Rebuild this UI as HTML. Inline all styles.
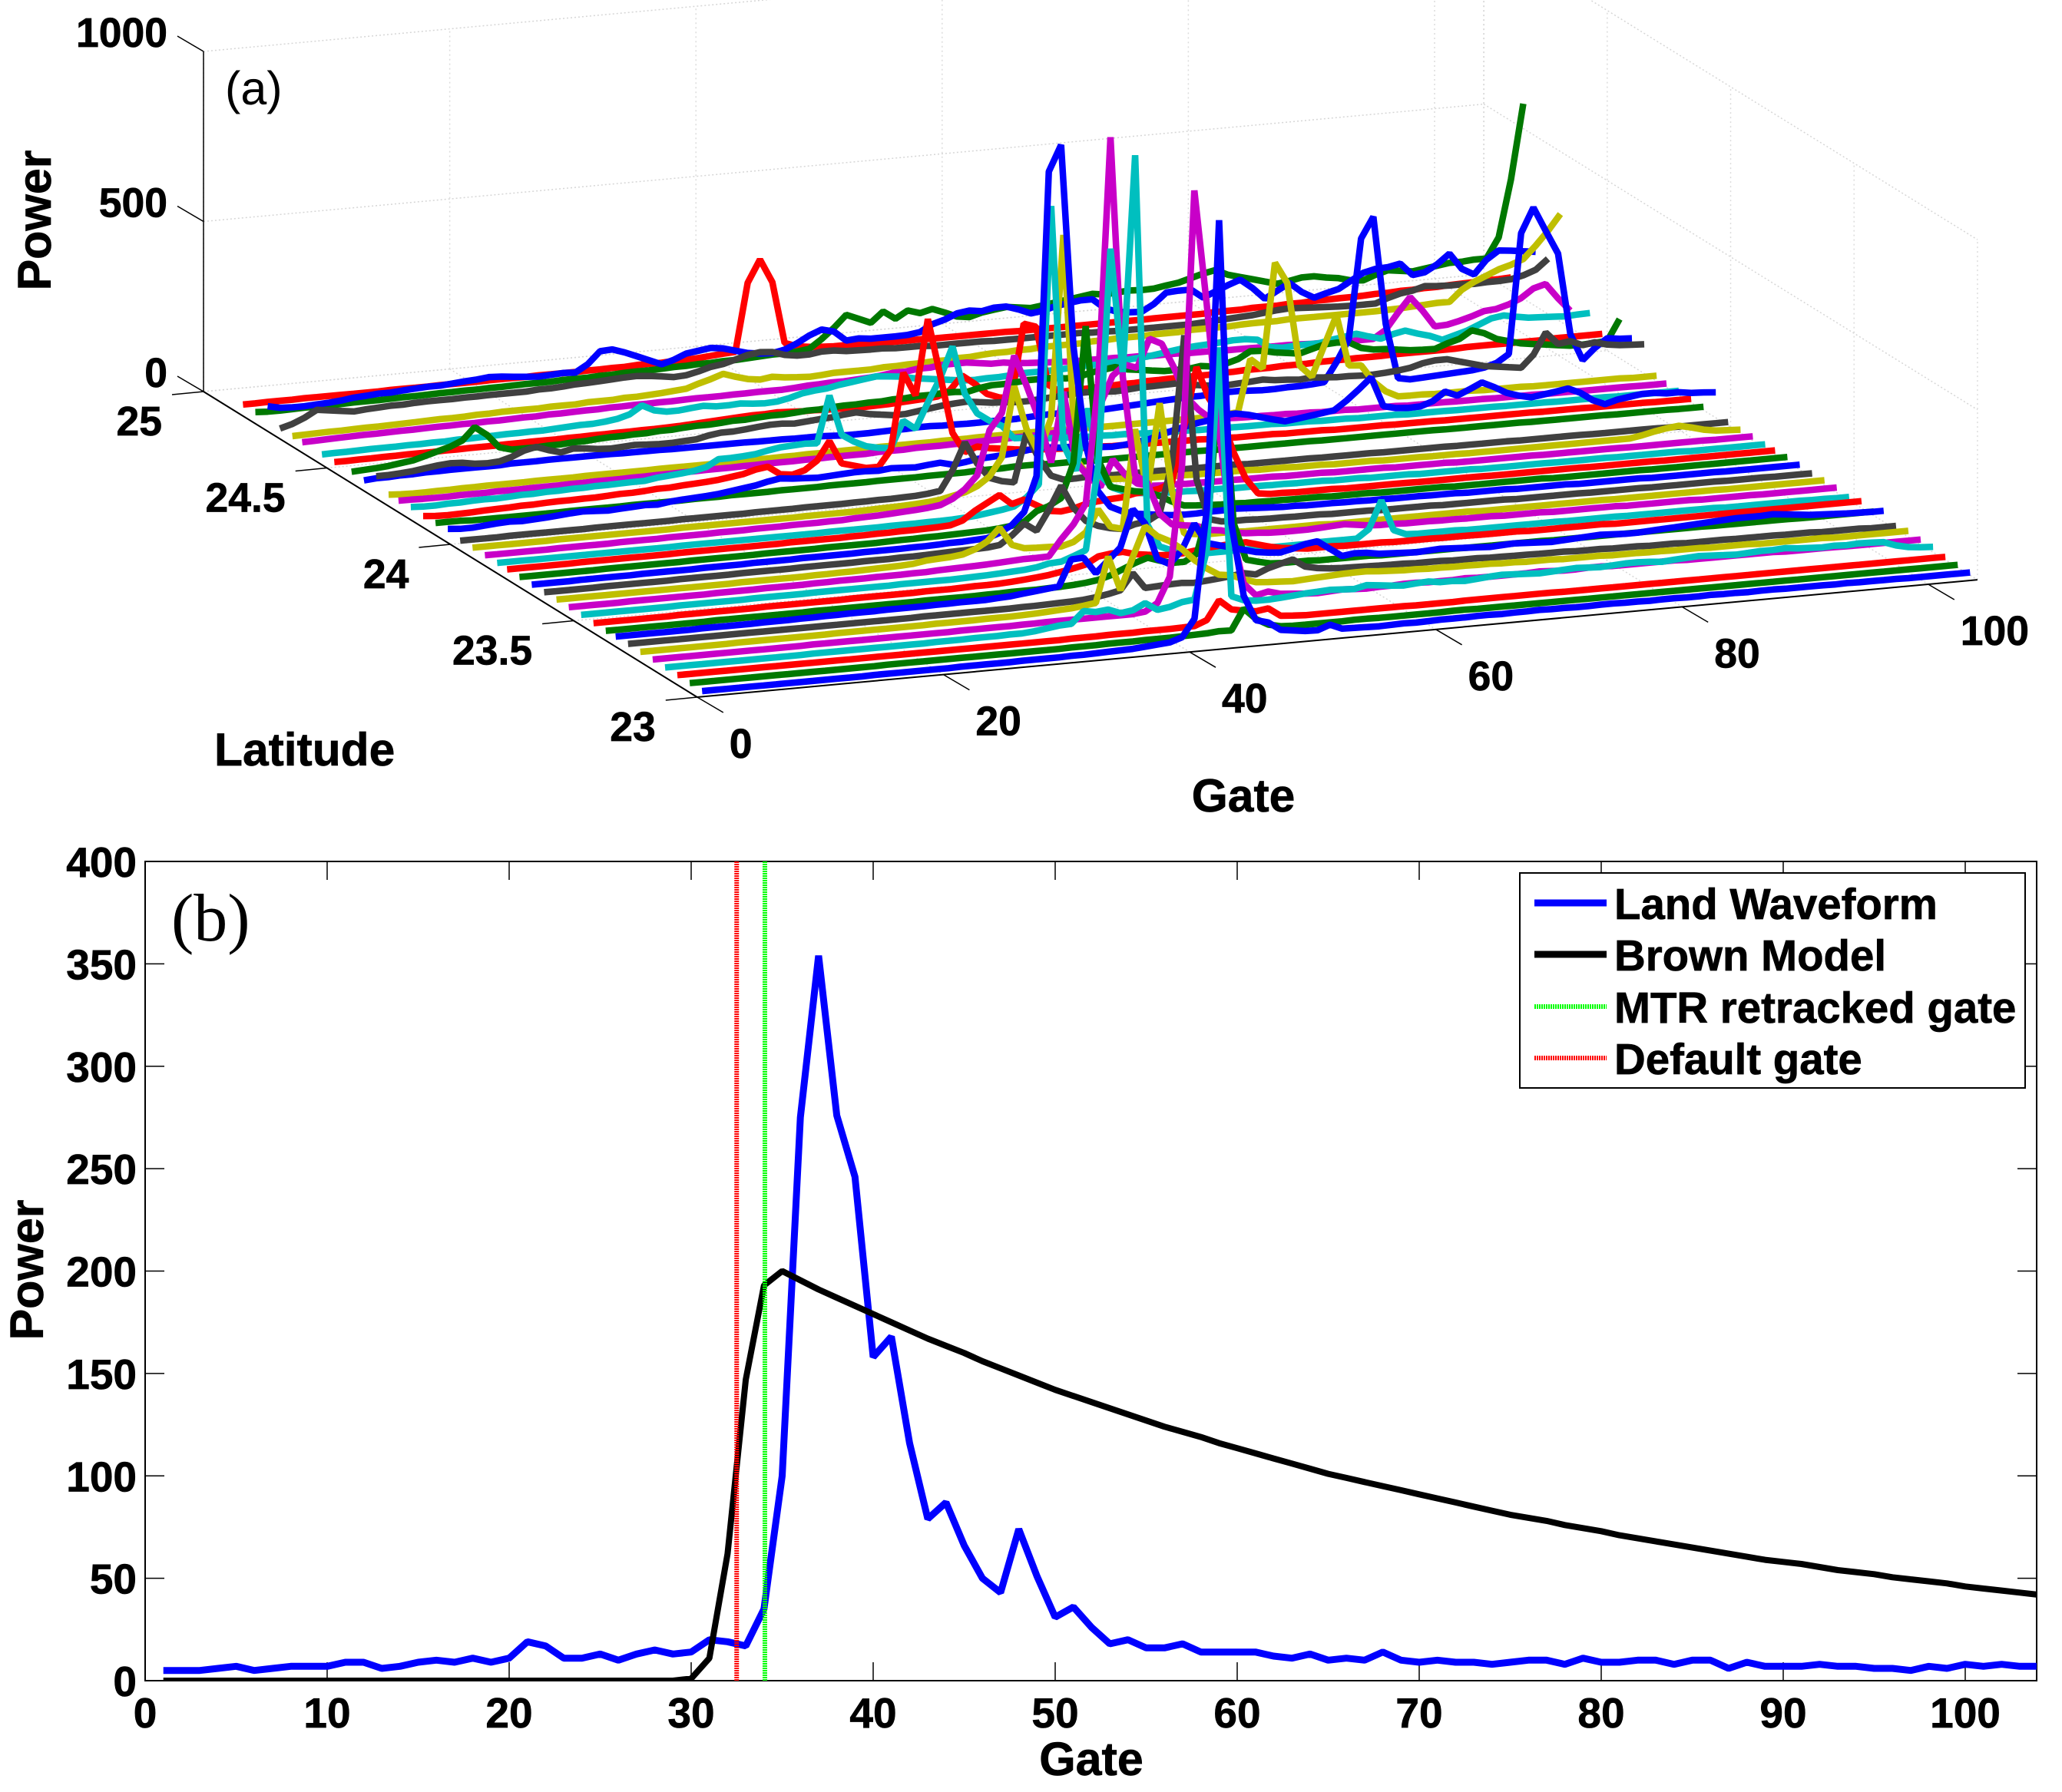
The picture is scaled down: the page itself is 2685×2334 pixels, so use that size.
<!DOCTYPE html>
<html lang="en"><head><meta charset="utf-8"><title>Waveform figure</title>
<style>html,body{margin:0;padding:0;background:#fff}svg{display:block}text{font-family:"Liberation Sans",sans-serif;font-weight:bold;fill:#000;stroke:#000;stroke-width:.7px}</style></head>
<body>
<svg id="fig" xmlns="http://www.w3.org/2000/svg" width="2685" height="2334" viewBox="0 0 2685 2334">
<defs><clipPath id="clipB"><rect x="189" y="1122" width="2463" height="1068"/></clipPath></defs>
<g id="a"></g>
<g id="b"></g>
</svg>
<script>
const NS='http://www.w3.org/2000/svg';
// Panel (a) axis ticks
const aGateTicks=[0,20,40,60,80,100];
const aLatTicks=[25,24.5,24,23.5,23];
const aPowerTicks=[0,500,1000];
// Panel (a) latitudes and colours, front to back
const lats=[23.03,23.08,23.13,23.18,23.23,23.28,23.33,23.38,23.42,23.47,23.52,23.57,23.62,23.67,23.72,23.77,23.82,23.86,23.91,23.96,24.01,24.06,24.11,24.16,24.21,24.26,24.30,24.35,24.40,24.45,24.52,24.57,24.65,24.69,24.74,24.79,24.84,24.89];
const colors=['#0000ff','#007800','#ff0000','#00bfbf','#c800c8','#bfbf00','#404040'];
// Panel (a) waveforms: power at gates 1..104
const s00=[1,1,1,1,1,1,1,1,1,1, 1,1,1,1,2,2,2,2,2,2, 2,3,3,3,3,3,4,4,4,4, 5,5,6,7,8,9,12,15,18,30, 81,400,1246,350,135,60,50,25,20,15, 14,27,12,11,10,9,10,11,10,11, 12,12,12,13,13,12,13,13,14,13, 13,12,12,13,13,12,12,11,12,12, 11,11,12,11,11,10,11,11,10,10, 10,10,9,10,9,9,9,9,8,8, 8,8,8,8];
const s01=[2,2,2,2,2,2,2,2,2,2, 2,2,2,2,2,2,3,3,3,3, 3,3,3,3,3,3,3,3,3,3, 3,4,4,4,5,5,5,6,6,6, 7,8,9,12,11,72,38,18,10,8, 8,8,8,8,9,9,8,8,8,8, 8,8,9,9,8,8,8,8,8,8, 8,8,8,8,8,8,8,8,8,8, 8,8,8,8,8,8,8,8,8,8, 8,8,8,8,8,8,8,8,8,8, 8,8,8,8];
const s02=[3,3,3,3,3,3,3,3,3,3, 3,3,3,3,3,3,3,3,3,3, 3,3,3,3,3,3,3,3,3,3, 3,3,4,4,4,5,5,5,6,6, 6,7,8,22,77,47,40,35,40,15, 12,10,10,10,10,10,10,10,10,10, 9,9,9,9,10,10,10,10,10,10, 10,10,9,9,9,9,9,9,9,9, 9,9,9,9,9,9,9,9,9,9, 9,9,9,9,9,9,9,9,9,9, 9,9,9,9];
const s03=[3,3,3,3,3,3,3,3,3,3, 3,3,4,4,4,4,4,4,4,4, 4,4,5,5,5,6,6,6,7,7, 10,15,20,22,56,50,54,40,45,63, 40,45,56,60,200,795,60,45,40,40, 42,45,48,50,52,50,48,56,52,48, 45,48,50,45,45,42,45,48,50,48, 46,44,46,48,50,48,46,48,50,50, 48,45,48,50,52,50,48,46,48,50, 50,52,48,46,44,46,44,46,45,43, 30,22,18,16];
const s04=[4,4,4,4,4,4,4,4,4,4, 4,4,4,5,5,5,5,5,5,5, 5,5,5,5,5,6,6,6,6,6, 7,7,8,8,8,8,8,8,8,8, 12,34,108,433,1237,900,525,230,68,30, 38,28,25,22,20,22,24,22,20,22, 22,24,24,22,22,22,24,22,22,22, 22,22,24,22,20,20,22,22,20,20, 20,20,20,20,18,18,18,18,18,18, 18,18,16,16,16,16,16,15,15,15, 15,15,15,15];
const s05=[4,4,4,4,4,4,4,4,5,5, 5,5,5,5,5,5,6,6,6,6, 6,6,6,6,7,7,7,7,8,8, 8,9,10,12,14,16,20,25,158,56, 150,237,205,187,160,125,97,75,70,55, 43,40,38,36,38,40,42,44,45,45, 42,40,38,38,36,36,35,35,34,34, 32,32,30,30,30,28,28,28,28,26, 26,26,25,25,24,24,24,22,22,22, 22,20,20,20,20,20,20,18,18,18, 18,18,18,18];
const s06=[5,5,5,5,5,5,5,5,5,5, 5,5,5,5,5,5,5,5,5,5, 5,5,5,5,6,6,6,6,6,6, 6,6,7,7,8,9,10,12,16,22, 30,77,30,32,34,35,32,35,38,42, 47,40,55,65,74,50,42,38,36,35, 34,33,32,32,30,30,30,28,28,28, 26,26,25,25,24,24,24,22,22,22, 20,20,20,18,18,18,16,16,16,16, 15,15,15,15,14,14,14,12,12,12, 12,10,10,10];
const s07=[4,4,4,4,4,4,4,5,5,5, 5,5,6,6,6,7,7,8,8,9, 9,9,10,10,10,10,11,11,12,12, 12,14,16,20,24,28,32,108,110,61, 95,130,239,194,86,68,106,180,120,110, 100,90,80,75,72,80,90,95,70,45, 50,48,42,40,38,36,38,40,38,36, 34,32,34,36,34,32,30,32,34,36, 38,36,34,34,36,38,40,42,44,46, 48,50,50,50,52,48,44,40,38,36, 34,33,32,32];
const s08=[3,3,3,3,3,3,3,3,3,4, 4,4,4,4,4,4,4,5,5,5, 5,5,5,5,5,5,6,6,6,6, 6,7,7,8,8,8,9,10,12,15, 20,30,45,60,72,60,50,50,70,200, 640,150,40,30,22,20,20,20,18,18, 18,18,18,16,16,16,16,16,16,16, 15,15,15,15,15,15,15,14,14,14, 14,14,14,14,14,14,14,14,14,14, 13,13,13,13,13,13,13,12,12,12, 12,12,12,12];
const s09=[3,3,3,3,3,3,3,4,4,4, 4,4,4,4,5,5,5,5,5,5, 5,6,6,6,6,6,6,7,7,7, 8,9,9,10,12,15,18,22,28,35, 43,63,68,70,60,55,50,48,50,55, 60,62,65,65,55,45,38,34,30,30, 30,28,28,28,28,26,26,26,26,25, 25,25,24,24,24,24,22,22,22,22, 22,22,22,20,20,20,20,20,20,20, 20,20,20,20,20,20,20,20,20,20, 20,20,20,20];
const s10=[5,5,5,5,5,5,5,5,6,6, 6,6,6,6,7,7,7,7,7,8, 8,8,8,8,8,8,9,9,9,9, 9,10,11,12,14,16,18,22,30,32, 45,59,305,939,573,1207,117,50,35,25, 20,18,18,18,18,18,18,18,18,18, 20,20,20,20,45,126,35,20,18,18, 18,18,16,16,16,16,16,16,16,16, 15,15,15,15,15,14,14,14,14,14, 14,14,14,12,12,12,12,12,12,12, 11,11,10,10];
const s11=[5,5,5,5,5,6,6,6,6,6, 6,6,7,7,7,7,8,8,8,8, 9,9,10,10,10,11,11,11,12,12, 14,15,16,17,18,20,22,24,24,25, 72,113,170,520,1241,533,240,215,120,86, 80,75,60,55,45,40,38,35,34,34, 34,36,38,40,35,30,28,28,26,26, 26,25,25,24,24,24,22,22,22,22, 20,20,20,20,20,20,18,18,18,18, 18,18,16,16,16,16,16,15,15,15, 15,15,15,15];
const s12=[5,5,5,5,5,5,5,5,5,5, 5,5,5,5,5,6,6,6,6,6, 6,7,7,8,8,9,10,11,12,14, 20,22,24,28,40,60,97,43,30,28, 27,25,35,60,124,70,60,350,165,420, 158,30,25,22,22,22,20,20,20,20, 20,20,20,18,18,18,18,18,18,18, 18,18,18,18,18,16,16,16,16,16, 16,16,16,16,16,16,15,15,15,15, 15,15,15,15,15,14,14,14,14,14, 14,14,14,14];
const s13=[4,4,4,4,4,5,5,5,5,5, 5,6,6,6,6,6,7,7,7,7, 7,8,8,8,8,8,9,9,9,10, 10,11,12,13,14,15,16,20,45,77, 52,110,178,110,68,50,40,34,45,50, 70,212,587,160,40,30,28,28,26,25, 25,24,24,24,22,22,22,22,20,20, 20,20,20,18,18,18,18,18,18,16, 16,16,16,16,16,15,15,15,15,15, 14,14,14,14,14,14,13,13,13,13, 12,12,12,12];
const s14=[4,4,4,4,5,5,5,5,5,6, 6,6,6,6,7,7,7,7,8,8, 8,8,9,9,9,9,9,10,10,10, 10,11,11,12,14,14,16,18,30,50, 85,187,1079,1154,560,264,126,77,60,50, 45,40,36,34,34,36,36,38,36,34, 32,30,30,28,28,28,27,27,26,26, 25,25,25,24,24,24,22,22,22,22, 20,20,20,20,20,18,18,18,18,18, 18,16,16,16,16,16,16,15,15,15, 15,15,15,15];
const s15=[4,4,4,4,4,4,4,5,5,5, 5,5,5,5,6,6,6,6,6,6, 7,7,7,7,7,8,8,8,8,8, 9,10,10,11,11,12,13,14,15,18, 22,30,58,70,90,190,589,194,110,100, 90,85,70,50,35,32,30,28,28,26, 26,25,25,24,24,24,22,22,22,22, 20,20,20,20,20,20,18,18,18,18, 18,18,18,18,16,16,16,16,16,16, 16,16,15,15,15,15,15,15,15,15, 15,15,15,15];
const s16=[4,4,4,4,4,4,5,5,5,5, 5,5,5,5,6,6,6,6,6,6, 6,6,6,7,7,7,7,7,8,8, 9,9,10,10,11,12,14,25,50,70, 90,60,70,50,30,25,30,40,45,48, 50,58,60,65,80,240,413,318,260,153, 72,25,20,20,18,18,18,18,16,16, 16,16,16,16,15,15,15,15,15,15, 14,14,14,14,14,14,14,14,13,13, 13,13,13,13,12,12,12,12,12,12, 12,12,12,12];
const s17=[5,5,5,5,5,5,5,5,5,5, 5,5,5,5,5,6,6,6,6,6, 6,6,6,6,6,6,6,7,7,7, 7,7,8,8,8,9,9,10,12,15, 20,25,32,55,90,905,200,120,300,100, 60,45,38,34,32,30,30,28,28,28, 26,26,26,25,25,24,24,24,22,22, 22,20,20,20,20,18,18,18,18,18, 16,16,16,16,16,16,15,15,15,15, 15,14,14,14,14,14,14,12,12,12, 12,12,12,12];
const s18=[5,5,5,5,5,5,6,6,6,6, 6,7,7,7,7,8,8,8,8,9, 9,9,10,10,10,11,11,11,12,12, 14,15,16,18,20,22,25,30,45,70, 108,237,284,449,358,257,125,330,120,75, 40,117,70,40,30,28,28,26,26,25, 25,25,24,24,24,22,22,22,22,20, 20,20,20,20,18,18,18,18,18,16, 16,16,16,16,16,16,15,15,15,15, 15,15,15,14,14,14,14,14,14,14, 13,13,13,13];
const s19=[5,5,5,5,5,5,5,6,6,6, 6,6,6,6,6,6,6,7,7,7, 7,7,7,7,7,7,7,8,8,8, 8,8,9,10,11,12,14,16,20,28, 35,50,75,128,334,205,130,230,765,104, 50,38,34,32,30,28,28,26,26,25, 25,24,24,24,22,22,22,20,20,20, 18,18,18,18,16,16,16,16,15,15, 15,14,14,14,14,14,14,14,14,14, 14,14,14,14,14,20,28,34,38,30, 20,14,12,10];
const s20=[3,3,3,3,4,4,4,4,4,4, 4,5,5,5,5,5,5,5,6,6, 6,6,6,6,7,7,7,7,8,8, 8,8,9,9,10,10,11,12,15,20, 77,156,90,45,32,25,167,88,35,20, 20,22,22,20,20,20,20,20,18,18, 18,18,18,18,16,16,16,16,16,16, 15,15,15,15,15,14,14,14,14,14, 14,13,13,13,13,13,12,12,12,12, 12,12,11,11,11,11,11,11,10,10, 10,10,10,10];
const s21=[15,12,12,15,18,20,18,20,22,25, 28,30,28,26,28,30,32,30,35,38, 40,42,45,50,55,60,68,74,70,68, 66,68,70,72,72,70,74,72,70,74, 77,68,72,78,80,82,85,90,95,92, 88,90,85,80,78,80,85,90,100,110, 118,125,130,140,142,135,125,115,106,110, 115,120,125,150,180,212,124,115,112,113, 125,150,135,150,167,150,130,118,110,115, 120,126,110,85,70,80,85,90,90,85, 85,80,78,75];
const s22=[10,10,10,8,8,8,8,8,8,8, 8,9,9,9,9,9,10,10,10,10, 10,11,11,11,12,12,12,12,13,13, 13,13,14,14,14,14,15,15,15,15, 16,16,16,16,18,18,18,20,20,20, 18,18,18,16,16,16,16,16,16,16, 16,16,16,15,15,15,15,15,15,15, 15,15,14,14,14,14,14,14,14,14, 14,14,13,13,13,13,13,13,13,12, 12,12,12,12,12,12,11,11,11,11, 11,10,10,10];
const s23=[8,5,4,5,6,8,9,10,12,12, 14,15,15,16,16,18,20,20,22,25, 25,28,30,32,35,40,45,55,60,35, 30,40,65,119,50,40,30,30,77,300, 230,451,282,110,50,63,55,50,45,40, 38,36,34,32,30,30,28,28,26,26, 25,25,24,24,22,22,20,20,20,20, 18,18,18,18,16,16,16,16,16,15, 15,15,15,14,14,14,14,14,14,14, 14,13,13,13,13,12,12,12,12,12, 11,11,11,11];
const s24=[12,10,10,12,12,14,15,14,16,18, 18,20,20,22,22,24,24,25,26,26, 32,35,38,42,50,70,70,72,75,82, 88,90,92,90,227,108,85,68,60,56, 133,106,180,248,338,196,135,110,92,52, 50,45,42,40,38,36,36,34,34,32, 30,30,28,28,26,26,25,25,24,24, 24,22,22,22,20,20,20,18,18,18, 18,16,16,16,16,15,15,15,15,14, 14,14,14,13,13,13,13,13,12,12, 12,12,12,12];
const s25=[8,8,7,7,7,8,8,8,9,9, 9,10,10,10,11,11,12,12,12,13, 13,14,14,15,15,16,16,16,17,17, 18,18,18,19,19,20,20,20,20,22, 22,22,24,24,24,25,25,26,26,26, 28,28,28,30,30,35,50,100,183,212, 200,282,264,190,100,60,30,28,26,25, 25,24,24,22,22,20,20,20,18,18, 18,18,16,16,16,16,15,15,15,14, 14,14,14,13,13,13,12,12,12,12, 12,11,11,11];
const s26=[8,6,5,5,6,6,7,7,8,8, 8,8,9,9,9,9,10,10,10,10, 10,10,11,11,11,11,11,11,11,12, 12,12,13,13,14,14,14,15,15,15, 16,16,16,16,16,17,17,17,18,18, 18,18,18,18,18,16,16,16,15,15, 15,15,15,15,15,15,15,15,18,22, 174,144,451,388,142,106,194,280,129,126, 75,43,25,24,24,22,22,22,22,20, 20,20,20,18,18,18,18,18,18,18, 18,16,16,16];
const s27=[40,40,42,45,50,55,58,56,50,48, 50,60,75,83,70,60,68,65,60,58, 60,62,60,58,58,60,62,70,75,75, 78,82,85,85,82,85,88,90,95,98, 90,85,80,80,85,90,95,98,100,95, 90,88,85,85,88,90,92,95,95,92, 90,92,95,95,96,97,90,85,80,78, 80,82,85,80,78,75,78,75,72,72, 70,70,72,75,80,90,95,95,85,75, 65,60,55,50,85,147,110,115,100,105, 95,90,88,86];
const s28=[5,8,8,10,10,12,12,13,13,13, 13,13,15,15,15,16,16,16,16,16, 16,15,15,15,15,14,14,14,14,14, 14,14,13,13,13,12,12,12,10,8, 8,8,9,10,10,12,12,10,10,9, 9,10,10,10,12,14,15,14,12,12, 14,16,18,20,22,24,26,28,28,30, 32,32,30,28,28,30,30,32,35,90, 155,447,508,190,27,20,22,24,26,28, 30,35,45,68,420,492,420,350,110,30, 63,88,83,81];
const s29=[8,10,12,15,20,25,35,45,55,70, 106,80,40,30,30,30,32,32,35,35, 38,40,40,42,42,45,45,48,50,50, 52,55,55,58,60,60,62,65,65,68, 70,70,72,72,75,75,78,78,80,80, 77,85,90,90,92,95,95,95,90,90, 100,105,110,100,95,90,85,85,85,90, 85,90,100,120,118,110,105,100,110,120, 122,120,100,92,90,85,80,78,77,90, 100,122,110,90,80,70,65,60,55,50, 50,52,54,115];
const s30=[5,5,6,6,7,7,8,8,8,9, 9,10,10,10,11,11,12,12,12,13, 13,14,14,15,15,16,16,17,18,20, 22,24,26,28,30,30,32,30,28,28, 26,26,25,24,25,26,28,30,32,35, 50,90,63,30,16,10,226,214,40,15, 18,18,20,20,22,22,24,24,25,25, 26,26,28,28,30,30,30,32,32,32, 34,34,34,35,35,35,36,36,36,36, 36,36,38,38,38,38,38,38,38,40, 40,40,40,40];
const s31=[5,6,6,7,8,8,8,9,9,10, 10,12,12,13,14,15,15,16,16,18, 20,22,22,25,30,40,63,45,38,38, 42,45,40,40,42,38,36,38,45,55, 60,63,70,75,80,85,82,78,70,65, 60,55,50,48,50,50,52,55,55,55, 56,58,60,60,62,65,68,70,75,80, 85,88,90,92,95,95,90,65,60,62, 63,63,70,75,81,70,60,70,77,65, 55,40,50,60,75,90,95,88,82,80, 78,76,78,79];
const s32=[5,6,7,8,9,10,10,11,12,12, 13,14,14,15,15,16,16,17,18,18, 20,20,21,22,22,24,24,25,25,26, 26,27,28,28,28,29,29,30,30,30, 32,35,36,38,38,40,42,45,50,50, 55,55,60,60,60,55,50,50,45,42, 40,38,36,35,35,34,34,32,32,30, 30,30,28,28,28,26,26,26,25,25, 25,24,22,22,20,20,20,20,43,90, 133,90,40,42,50,60,72,75,85,100, 125,135,90,50];
const s33=[5,6,7,8,8,9,10,10,11,12, 13,14,15,15,16,18,18,20,20,20, 20,22,22,22,25,25,25,28,28,30, 32,35,38,50,60,72,60,50,45,50, 45,42,40,42,45,45,45,45,48,48, 50,50,52,52,55,55,58,60,60,62, 62,65,65,65,65,68,68,70,70,70, 72,72,72,75,75,75,75,77,78,78, 78,80,80,80,80,80,80,80,80,81, 82,84,86,88,88,120,140,155,170,180, 194,230,270,316];
const s34=[5,15,30,50,45,40,35,38,40,42, 42,44,45,45,45,46,46,47,47,47, 47,50,50,52,55,56,58,60,62,63, 60,55,50,52,60,70,75,85,95,100, 97,85,80,80,85,85,80,79,78,78, 75,75,75,72,72,72,72,72,70,70, 70,70,70,70,70,70,68,68,66,66, 66,66,66,66,66,68,70,72,74,76, 80,84,86,84,82,80,78,77,77,77, 90,100,105,115,112,110,110,108,110,110, 112,120,133,162];
const s35=[48,40,38,38,40,42,45,50,52,55, 55,58,60,62,62,65,68,70,74,72, 68,65,62,64,66,64,85,120,122,110, 95,80,65,75,90,95,100,95,85,75, 70,68,75,90,110,124,115,85,88,84, 84,84,85,90,110,120,135,140,135,142, 142,130,115,120,130,135,140,140,110,97, 92,90,110,140,142,142,115,130,145,158, 130,95,115,135,105,85,95,104,125,145, 153,155,162,125,130,150,178,130,110,150, 174,170,165,160];
const s36=[8,6,6,7,8,8,8,9,10,10, 10,11,12,12,13,14,14,15,15,16, 16,17,18,18,18,20,20,20,22,22, 24,25,25,26,28,28,30,30,32,32, 34,36,38,38,40,45,70,100,135,120, 105,135,110,131,120,129,115,100,95,105, 110,115,110,105,110,115,120,125,130,125, 128,130,128,129,135,140,150,160,167,150, 140,130,120,110,115,122,122,115,110,100, 97,110,120,115,110,115,120,125,125,128, 128,187,354,573];
const s37=[8,8,9,9,9,10,10,10,10,10, 10,10,11,11,11,11,12,12,12,12, 13,13,13,13,14,14,14,14,15,15, 16,16,18,18,18,20,20,22,25,28, 30,230,295,225,43,30,25,22,20,20, 18,18,18,17,17,17,16,16,16,16, 16,16,16,15,15,15,15,15,15,15, 15,15,15,15,16,16,16,16,16,18, 18,18,20,20,20,22,22,24,24,25, 25,26,28,28,30,30,32,32,34,35, 36,38,38,40];
const waveforms=[s00,s01,s02,s03,s04,s05,s06,s07,s08,s09,s10,s11,s12,s13,s14,s15,s16,s17,s18,s19,s20,s21,s22,s23,s24,s25,s26,s27,s28,s29,s30,s31,s32,s33,s34,s35,s36,s37];
// Panel (b) data
const landWaveform=[5,5,5,6,7,5,6,7,7,7, 9,9,6,7,9,10,9,11,9,11, 19,17,11,11,13,10,13,15,13,14, 20,19,17,35,100,275,354,276,246,158, 168,116,79,87,66,50,43,74,51,31, 36,26,18,20,16,16,18,14,14,14, 14,12,11,13,10,11,10,14,10,9, 10,9,9,8,9,10,10,8,11,9, 9,10,10,8,10,10,6,9,7,7, 7,8,7,7,6,6,5,7,6,8, 7,8,7,7];
const brownModel=[0,0,0,0,0,0,0,0,0,0, 0,0,0,0,0,0,0,0,0,0, 0,0,0,0,0,0,0,0,0,1, 11,62,147,193,200,195.5,191,187,183,179, 175,171,167,163.5,160,156,152.5,149,145.5,142, 139,136,133,130,127,124,121.5,119,116,113.5, 111,108.5,106,103.5,101,99,97,95,93,91, 89,87,85,83,81,79.5,78,76,74.5,73, 71,69.5,68,66.5,65,63.5,62,60.5,59,58, 57,55.5,54,53,52,50.5,49.5,48.5,47.5,46, 45,44,43,42];
const mtrGate=34.05;
const defaultGate=32.5;
const bGateTicks=[0,10,20,30,40,50,60,70,80,90,100];
const bPowerTicks=[0,50,100,150,200,250,300,350,400];
const legendLabels=['Land Waveform','Brown Model','MTR retracked gate','Default gate'];

function add(parent,tag,attrs,text){const e=document.createElementNS(NS,tag);for(const k in attrs)e.setAttribute(k,attrs[k]);if(text!==undefined)e.textContent=text;parent.appendChild(e);return e;}
const A=document.getElementById('a'),B=document.getElementById('b');

// Panel (a) projection
function px(g,lat){return 265+g*16.03+(25-lat)*321.4;}
function py(g,lat,z){return 510-g*1.47+(25-lat)*199-z*0.443;}
function aLine(p,q,stroke,w,dash,name){
  const l=add(A,'line',{x1:p[0],y1:p[1],x2:q[0],y2:q[1],stroke:stroke,'stroke-width':w});
  if(dash)l.setAttribute('stroke-dasharray',dash);
  
  
  return l;
}
const GMAX=104,LMIN=23,LMAX=25,ZMAX=1000;
function P(g,lat,z){return [px(g,lat),py(g,lat,z)];}
// walls and floor grid
aPowerTicks.forEach(z=>{
  aLine(P(0,LMAX,z),P(GMAX,LMAX,z),'#d6d6d6',1.5,'2 3','back-wall-gridline');
  aLine(P(GMAX,LMAX,z),P(GMAX,LMIN,z),'#d6d6d6',1.5,'2 3','side-wall-gridline');
});
aGateTicks.forEach(g=>{
  aLine(P(g,LMAX,0),P(g,LMAX,ZMAX),'#dcdcdc',1.5,'2 4','back-wall-gate-gridline');
  aLine(P(g,LMAX,0),P(g,LMIN,0),'#d6d6d6',1.5,'2 3','floor-gate-gridline');
});
aLatTicks.forEach(l=>{
  aLine(P(GMAX,l,0),P(GMAX,l,ZMAX),'#dcdcdc',1.5,'2 4','side-wall-lat-gridline');
  aLine(P(0,l,0),P(GMAX,l,0),'#d6d6d6',1.5,'2 3','floor-lat-gridline');
});
aLine(P(GMAX,LMAX,0),P(GMAX,LMAX,ZMAX),'#d6d6d6',1.5,'2 4','back-corner-line');
// main axes
aLine(P(0,LMAX,0),P(0,LMAX,ZMAX),'#000',1.5,null,'power-axis-line');
aLine(P(0,LMAX,0),P(0,LMIN,0),'#000',2,null,'latitude-axis-line');
aLine(P(0,LMIN,0),P(GMAX,LMIN,0),'#000',2,null,'gate-axis-line');
aPowerTicks.forEach(z=>{
  const p=P(0,LMAX,z);
  aLine(p,[p[0]-34,p[1]-20],'#000',1.5,null,'power-tick');
  const t=add(A,'text',{x:218,y:p[1]-6,'text-anchor':'end','font-size':53.5},String(z));
  
  
});
aLatTicks.forEach(l=>{
  const p=P(0,l,0);
  aLine(p,[p[0]-41,p[1]+4],'#000',1.5,null,'latitude-tick');
  const t=add(A,'text',{x:p[0]-54,y:p[1]+57,'text-anchor':'end','font-size':53.5},String(l));
  
  
});
aGateTicks.forEach(g=>{
  const p=P(g,LMIN,0);
  aLine(p,[p[0]+34,p[1]+20],'#000',1.5,null,'gate-tick');
  const t=add(A,'text',{x:p[0]+42,y:p[1]+79,'font-size':53.5},String(g));
  
  
});
// waveforms, back to front
for(let i=waveforms.length-1;i>=0;i--){
  const pts=waveforms[i].map((v,j)=>px(j+1,lats[i]).toFixed(1)+','+py(j+1,lats[i],v).toFixed(1)).join(' ');
  const pl=add(A,'polyline',{points:pts,fill:'none',stroke:colors[i%7],'stroke-width':8.5,'stroke-linejoin':'bevel','stroke-linecap':'butt'});
  
  
}
let t;
t=add(A,'text',{x:293,y:136,'font-size':61,style:'font-weight:normal;stroke:none'},'(a)');


t=add(A,'text',{x:279,y:997,'font-size':60.5},'Latitude');


t=add(A,'text',{x:1619,y:1057,'text-anchor':'middle','font-size':60.5},'Gate');


t=add(A,'text',{x:66,y:287,'text-anchor':'middle','font-size':61,transform:'rotate(-90 66 287)'},'Power');



// Panel (b)
const L=189,R=2652,TOP=1122,BOT=2189;
function xb(g){return L+g*23.7;}
function yb(v){return BOT-v*(BOT-TOP)/400;}
function bLine(x1,y1,x2,y2,stroke,w,name,dash){
  const l=add(B,'line',{x1:x1,y1:y1,x2:x2,y2:y2,stroke:stroke,'stroke-width':w});
  if(dash)l.setAttribute('stroke-dasharray',dash);
  
  
  return l;
}
const frame=add(B,'rect',{x:L,y:TOP,width:R-L,height:BOT-TOP,fill:'#fff',stroke:'#000','stroke-width':2});


bGateTicks.forEach(g=>{
  bLine(xb(g),BOT,xb(g),BOT-24,'#000',1.5,'gate-tick-bottom');
  bLine(xb(g),TOP,xb(g),TOP+24,'#000',1.5,'gate-tick-top');
  const t=add(B,'text',{x:xb(g),y:2250,'text-anchor':'middle','font-size':55},String(g));
  
  
});
bPowerTicks.forEach(v=>{
  bLine(L,yb(v),L+25,yb(v),'#000',1.5,'power-tick-left');
  bLine(R,yb(v),R-25,yb(v),'#000',1.5,'power-tick-right');
  const t=add(B,'text',{x:178,y:yb(v)+20,'text-anchor':'end','font-size':55},String(v));
  
  
});
const plot=add(B,'g',{'clip-path':'url(#clipB)'});


function series(vals,color,w,name){
  const pts=vals.map((v,i)=>xb(i+1).toFixed(1)+','+yb(v).toFixed(1)).join(' ');
  const pl=add(plot,'polyline',{points:pts,fill:'none',stroke:color,'stroke-width':w,'stroke-linejoin':'bevel'});
  
  
}
series(landWaveform,'#0000ff',9,'land-waveform-line');
series(brownModel,'#000',8,'brown-model-line');
function vline(g,color,name){
  const l=add(plot,'line',{x1:xb(g),y1:TOP,x2:xb(g),y2:BOT,stroke:color,'stroke-width':6,'stroke-dasharray':'2 1'});
  
  
}
vline(mtrGate,'#00ff00','mtr-retracked-gate-line');
vline(defaultGate,'#ff0000','default-gate-line');
t=add(B,'text',{x:223,y:1225,'font-size':88,style:'font-family:"Liberation Serif",serif;font-weight:normal;stroke:none'},'(b)');


t=add(B,'text',{x:1421,y:2312,'text-anchor':'middle','font-size':61},'Gate');


t=add(B,'text',{x:56,y:1654,'text-anchor':'middle','font-size':61,transform:'rotate(-90 56 1654)'},'Power');


// legend
const lg=add(B,'g',{});


const box=add(lg,'rect',{x:1979,y:1137,width:658,height:280,fill:'#fff',stroke:'#000','stroke-width':2});


const legendColors=['#0000ff','#000','#00ff00','#ff0000'];
const legendY=[1176,1243,1311,1378];
legendLabels.forEach((s,i)=>{
  const l=add(lg,'line',{x1:1998,y1:legendY[i],x2:2092,y2:legendY[i],stroke:legendColors[i],'stroke-width':i<2?9:6});
  if(i>1)l.setAttribute('stroke-dasharray','2 1');
  
  
  const tx=add(lg,'text',{x:2102,y:legendY[i]+21,'font-size':56.4},s);
  
  
});
</script>
</body></html>
